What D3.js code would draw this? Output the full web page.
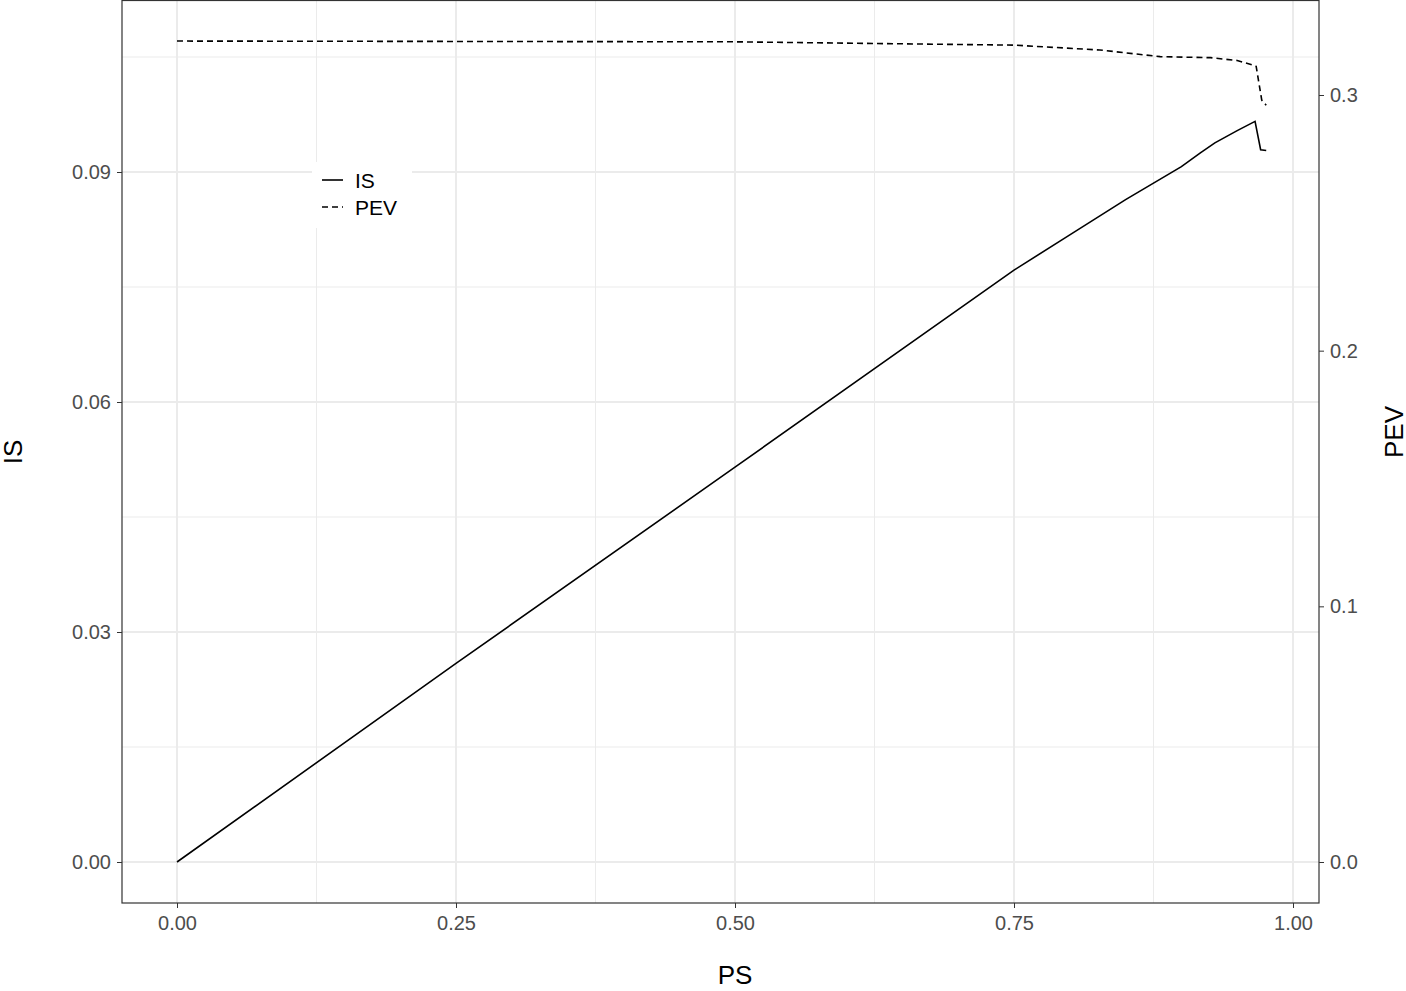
<!DOCTYPE html><html><head><meta charset="utf-8"><script src="https://d3js.org/d3.v7.min.js"></script>
<style>body{margin:0;background:#fff}text{font-family:"Liberation Sans",Arial,sans-serif}</style></head><body><svg id="c" width="1406" height="991"></svg><script>
const psIS=[0,0.25,0.5,0.75,0.8,0.85,0.9,0.917,0.93,0.95,0.966,0.971,0.976];
const isVals=[0,0.0259,0.0515,0.0772,0.0818,0.0864,0.0907,0.0925,0.0938,0.0954,0.0966,0.0929,0.0928];
const psPEV=[0,0.5,0.75,0.827,0.881,0.926,0.95,0.966,0.967,0.972,0.976];
const pevVals=[0.3211,0.3208,0.3195,0.3176,0.315,0.3146,0.3135,0.3115,0.3112,0.298,0.296];
const xTicks=[0,0.25,0.5,0.75,1];
const yTicksL=[0,0.03,0.06,0.09];
const yTicksR=[0,0.1,0.2,0.3];
const svg=d3.select("#c");
const L=122,R=1319,T=0,B=903;
const x=d3.scaleLinear().domain([0,1]).range([177,1293]);
const yL=d3.scaleLinear().domain([0,0.09]).range([862,172]);
const yR=d3.scaleLinear().domain([0,0.3]).range([862,95.0]);
const g=svg.append("g");
const grid="#ebebeb";
[0.125,0.375,0.625,0.875].forEach(v=>g.append("line").attr("x1",x(v)).attr("x2",x(v)).attr("y1",T).attr("y2",B).attr("stroke",grid).attr("stroke-width",1));
[0.015,0.045,0.075,0.105].forEach(v=>g.append("line").attr("y1",yL(v)).attr("y2",yL(v)).attr("x1",L).attr("x2",R).attr("stroke",grid).attr("stroke-width",1));
xTicks.forEach(v=>g.append("line").attr("x1",x(v)).attr("x2",x(v)).attr("y1",T).attr("y2",B).attr("stroke",grid).attr("stroke-width",2));
yTicksL.forEach(v=>g.append("line").attr("y1",yL(v)).attr("y2",yL(v)).attr("x1",L).attr("x2",R).attr("stroke",grid).attr("stroke-width",2));
const ln=d3.line();
svg.append("path").attr("d",ln(psIS.map((p,i)=>[x(p),yL(isVals[i])]))).attr("fill","none").attr("stroke","#000").attr("stroke-width",1.6);
svg.append("path").attr("d",ln(psPEV.map((p,i)=>[x(p),yR(pevVals[i])]))).attr("fill","none").attr("stroke","#000").attr("stroke-width",1.6).attr("stroke-dasharray","6,4");
svg.append("rect").attr("x",L).attr("y",T+0.5).attr("width",R-L).attr("height",B-T-0.5).attr("fill","none").attr("stroke","#333").attr("stroke-width",1.2);
const ax=(a,tr)=>{const s=svg.append("g").attr("transform",tr).call(a);s.select(".domain").remove();s.selectAll("line").attr("stroke","#333");s.selectAll("text").attr("fill","#4d4d4d").style("font-size","20px");return s;};
ax(d3.axisBottom(x).tickValues(xTicks).tickFormat(d3.format(".2f")).tickSize(5).tickPadding(8),`translate(0,${B})`);
ax(d3.axisLeft(yL).tickValues(yTicksL).tickFormat(d3.format(".2f")).tickSize(5).tickPadding(6),`translate(${L},0)`);
ax(d3.axisRight(yR).tickValues(yTicksR).tickFormat(d3.format(".1f")).tickSize(5).tickPadding(6),`translate(${R},0)`);
svg.append("text").attr("x",735).attr("y",984).attr("text-anchor","middle").style("font-size","26px").text("PS");
svg.append("text").attr("transform","translate(22,452) rotate(-90)").attr("text-anchor","middle").style("font-size","26px").text("IS");
svg.append("text").attr("transform","translate(1403,432) rotate(-90)").attr("text-anchor","middle").style("font-size","26px").text("PEV");
const lg=svg.append("g");
lg.append("rect").attr("x",312).attr("y",162).attr("width",100).attr("height",66).attr("fill","#fff");
lg.append("line").attr("x1",322).attr("x2",343).attr("y1",180).attr("y2",180).attr("stroke","#000").attr("stroke-width",1.6);
lg.append("line").attr("x1",322).attr("x2",343).attr("y1",207).attr("y2",207).attr("stroke","#000").attr("stroke-width",1.6).attr("stroke-dasharray","6,4");
lg.append("text").attr("x",355).attr("y",188).style("font-size","21px").text("IS");
lg.append("text").attr("x",355).attr("y",215).style("font-size","21px").text("PEV");
</script></body></html>
